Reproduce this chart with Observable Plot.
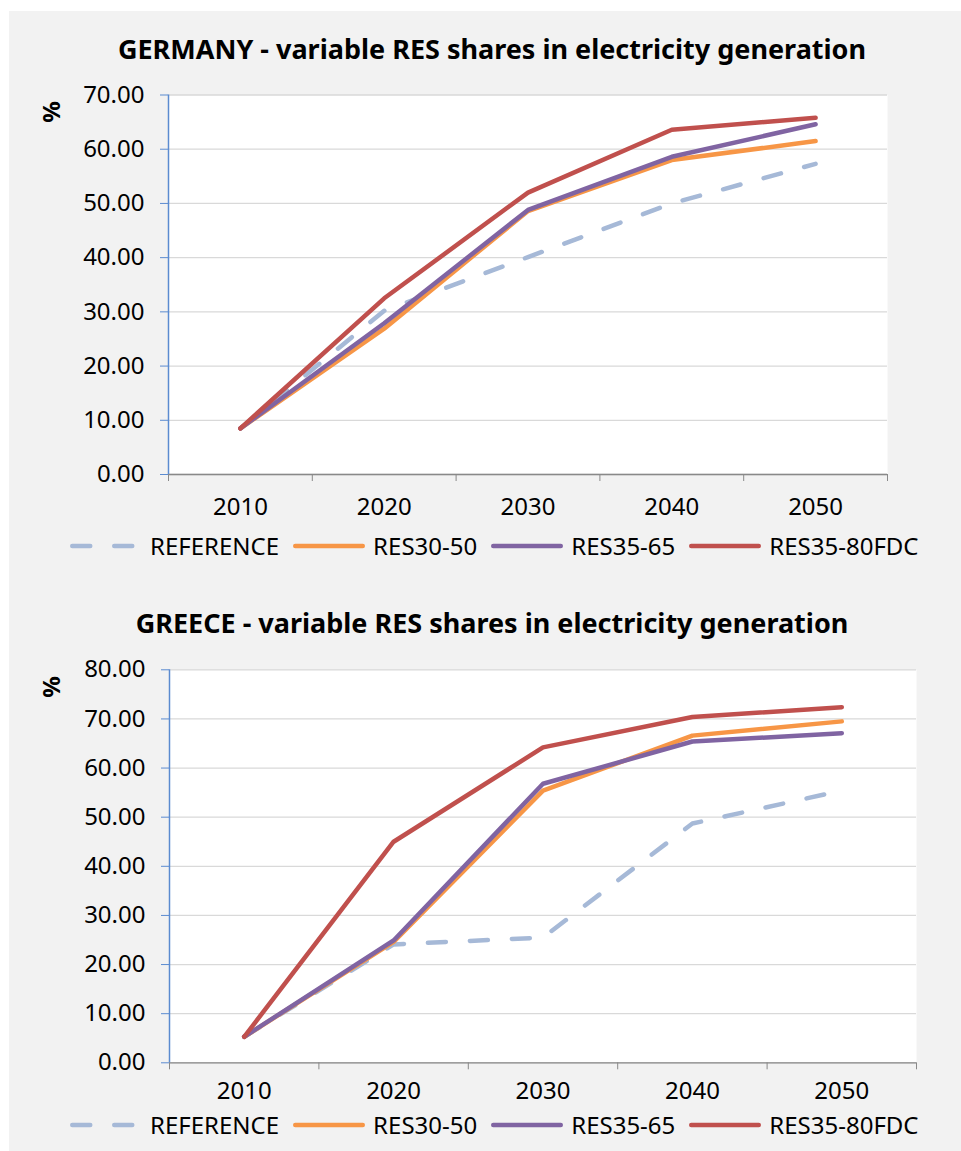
<!DOCTYPE html>
<html>
<head>
<meta charset="utf-8">
<script src="https://cdn.jsdelivr.net/npm/d3@7"></script>
<script src="https://cdn.jsdelivr.net/npm/@observablehq/plot@0.6"></script>
<style>
html, body { margin: 0; padding: 0; background: #fff; overflow: hidden; }
#page { position: relative; width: 961px; height: 1151px; font-family: "Noto Sans", sans-serif; color: #000; overflow: hidden; }
.bg { position: absolute; left: 9px; top: 11px; right: 0; bottom: 0; background: #f2f2f2; }
.title { position: absolute; left: 492px; transform: translateX(-50%); font-weight: bold; white-space: nowrap; line-height: 1; }
.ylab { position: absolute; font-weight: bold; font-size: 24px; line-height: 1; transform: translate(-50%, -50%) rotate(-90deg); }
.chart { position: absolute; left: 0; }
.legend { position: absolute; left: 70px; display: flex; align-items: center; font-size: 24px; line-height: 18px; white-space: nowrap; }
.legend svg { display: block; margin-right: 8px; }
.legend span { display: block; margin-right: 14px; }
</style>
</head>
<body>
<div id="page"><div class="bg"></div></div>
<script>
// ---- data ----
const years = [2010, 2020, 2030, 2040, 2050];
const series = ["REFERENCE", "RES30-50", "RES35-65", "RES35-80FDC"];
const colors = ["#a6b9d7", "#f79646", "#8064a2", "#c0504d"];

const germanyReference = [8.5, 30.2, 40.1, 50.0, 57.3];
const germanyRes3050   = [8.5, 26.9, 48.6, 58.0, 61.5];
const germanyRes3565   = [8.5, 27.9, 48.8, 58.6, 64.6];
const germanyRes3580   = [8.5, 32.5, 52.0, 63.6, 65.8];

const greeceReference = [5.3, 24.1, 25.5, 48.7, 55.4];
const greeceRes3050   = [5.3, 24.6, 55.4, 66.6, 69.5];
const greeceRes3565   = [5.3, 24.9, 56.8, 65.4, 67.1];
const greeceRes3580   = [5.3, 45.0, 64.2, 70.4, 72.4];

const germanyTicks = [0, 10, 20, 30, 40, 50, 60, 70];
const greeceTicks  = [0, 10, 20, 30, 40, 50, 60, 70, 80];

const germanyTitle = "GERMANY - variable RES shares in electricity generation";
const greeceTitle  = "GREECE - variable RES shares in electricity generation";
const yLabel = "%";

// ---- build ----
const page = document.getElementById("page");
const half = (years[1] - years[0]) / 2;
const xDomain = [years[0] - half, years[years.length - 1] + half];
const boundaries = [...years.map(y => y - half), years[years.length - 1] + half];

function rowsFor(arrs) {
  return series.flatMap((s, i) => years.map((y, j) => ({series: s, year: y, value: arrs[i][j]})));
}

function addChart(cfg) {
  const rows = rowsFor(cfg.values);
  const yMax = cfg.ticks[cfg.ticks.length - 1];

  const t = document.createElement("div");
  t.className = "title";
  t.style.fontSize = cfg.titleSize + "px";
  t.style.top = cfg.titleTop + "px";
  t.textContent = cfg.title;
  page.appendChild(t);

  const yl = document.createElement("div");
  yl.className = "ylab";
  yl.style.left = cfg.ylabX + "px";
  yl.style.top = cfg.ylabY + "px";
  yl.textContent = yLabel;
  page.appendChild(yl);

  const svg = Plot.plot({
    width: 961,
    height: cfg.height,
    marginLeft: cfg.mLeft,
    marginRight: cfg.mRight,
    marginTop: cfg.mTop,
    marginBottom: cfg.mBottom,
    style: {background: "transparent", fontSize: "24px", fontFamily: "'Noto Sans', sans-serif", color: "#000"},
    x: {domain: xDomain},
    y: {domain: [0, yMax]},
    color: {domain: series, range: colors},
    marks: [
      Plot.frame({fill: "white", stroke: "none"}),
      Plot.gridY(cfg.ticks, {stroke: "#d9d9d9", strokeOpacity: 1, strokeWidth: 1.3}),
      Plot.ruleY([0], {stroke: "#898989", strokeWidth: 1.3}),
      Plot.ruleX([xDomain[0]], {stroke: "#5b8bd0", strokeWidth: 1.5}),
      Plot.axisY(cfg.ticks, {tickSize: 8, tickPadding: 16, tickFormat: d => d.toFixed(2), stroke: "#5b8bd0", fill: "#000", label: null}),
      Plot.axisX(boundaries, {tickSize: 7, tickFormat: () => "", stroke: "#898989", label: null}),
      Plot.axisX(years, {tickSize: 0, tickPadding: cfg.xPad, tickFormat: d => String(d), fill: "#000", label: null}),
      Plot.line(rows.filter(d => d.series === series[0]), {
        x: "year", y: "value", stroke: colors[0], strokeWidth: 4.5,
        strokeDasharray: "18 24", strokeLinecap: "round", strokeLinejoin: "round"
      }),
      Plot.line(rows.filter(d => d.series !== series[0]), {
        x: "year", y: "value", z: "series", stroke: "series", strokeWidth: 4.5,
        strokeLinecap: "round", strokeLinejoin: "round"
      })
    ]
  });
  svg.classList.add("chart");
  svg.style.position = "absolute";
  svg.style.top = cfg.svgTop + "px";
  svg.style.left = "0px";
  page.appendChild(svg);

  const lg = document.createElement("div");
  lg.className = "legend";
  lg.style.top = cfg.legendTop + "px";
  series.forEach((s, i) => {
    const sw = d3.create("svg").attr("width", 72).attr("height", 10);
    sw.append("line")
      .attr("x1", 2.25).attr("x2", 69.75).attr("y1", 5).attr("y2", 5)
      .attr("stroke", colors[i]).attr("stroke-width", 4.5).attr("stroke-linecap", "round")
      .attr("stroke-dasharray", i === 0 ? "18 24" : null);
    lg.appendChild(sw.node());
    const sp = document.createElement("span");
    sp.textContent = s;
    lg.appendChild(sp);
  });
  page.appendChild(lg);
}

addChart({
  title: germanyTitle, titleSize: 27, titleTop: 35,
  ylabX: 51, ylabY: 112,
  values: [germanyReference, germanyRes3050, germanyRes3565, germanyRes3580],
  ticks: germanyTicks,
  svgTop: 64, height: 466, mTop: 30.5, mBottom: 56, mLeft: 168, mRight: 74, xPad: 23,
  legendTop: 537
});

addChart({
  title: greeceTitle, titleSize: 27, titleTop: 609,
  ylabX: 51, ylabY: 687,
  values: [greeceReference, greeceRes3050, greeceRes3565, greeceRes3580],
  ticks: greeceTicks,
  svgTop: 640, height: 470, mTop: 29.3, mBottom: 47.7, mLeft: 169, mRight: 45, xPad: 19.5,
  legendTop: 1116
});
</script>
</body>
</html>
